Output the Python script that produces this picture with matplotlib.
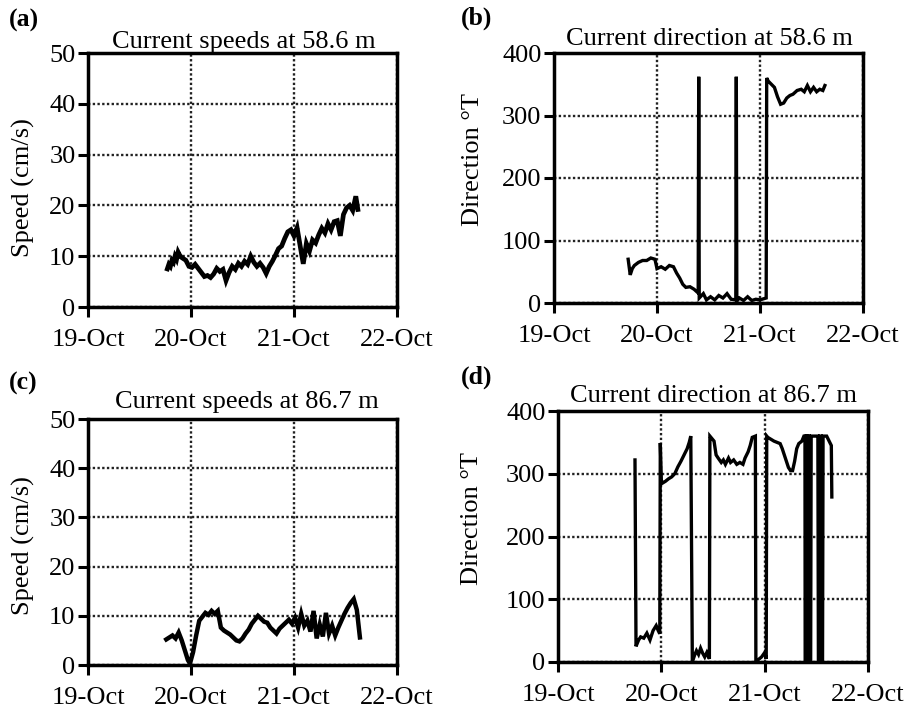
import matplotlib
matplotlib.use("Agg")
import matplotlib.pyplot as plt

plt.rcParams['font.family'] = ['Liberation Serif', 'DejaVu Serif']

# ---------------- data ----------------
day_ticks = [19, 20, 21, 22]
day_labels = ['19-Oct', '20-Oct', '21-Oct', '22-Oct']
speed_ticks = [0, 10, 20, 30, 40, 50]
dir_ticks = [0, 100, 200, 300, 400]

titles = ['Current speeds at 58.6 m', 'Current direction at 58.6 m',
          'Current speeds at 86.7 m', 'Current direction at 86.7 m']
panel_tags = ['(a)', '(b)', '(c)', '(d)']
speed_label = 'Speed (cm/s)'
dir_label = 'Direction °T'

time_a = [19.77, 19.785, 19.80, 19.815, 19.83, 19.845, 19.86, 19.875, 19.89, 19.905,
          19.92, 19.95, 19.98, 20.01, 20.04,
          20.07, 20.10, 20.13, 20.16, 20.19, 20.22, 20.25, 20.28, 20.31, 20.34,
          20.37, 20.40, 20.43, 20.46, 20.49, 20.52, 20.55, 20.58, 20.61, 20.64,
          20.67, 20.70, 20.73, 20.76, 20.79, 20.82, 20.85, 20.88, 20.91, 20.94,
          20.97, 21.00, 21.03, 21.06, 21.09, 21.12, 21.15, 21.18, 21.21, 21.24,
          21.27, 21.30, 21.33, 21.36, 21.39, 21.42, 21.45, 21.48, 21.51, 21.54,
          21.57, 21.60, 21.62]
speed_a = [7.5, 8.4, 8.0, 9.2, 8.8, 10.0, 9.4, 10.8, 10.2, 9.8,
           9.6, 9.2, 8.0, 7.8, 8.4,
           7.6, 6.8, 6.0, 6.2, 5.8, 6.5, 7.6, 7.0, 7.4, 5.2,
           6.8, 8.0, 7.4, 8.6, 8.0, 9.0, 8.4, 10.0, 8.8, 8.0,
           8.6, 7.8, 6.6, 8.0, 9.0, 10.2, 11.5, 12.0, 13.5, 14.8,
           15.2, 14.0, 15.6, 12.0, 8.5, 12.5, 11.0, 13.2, 12.6, 14.2,
           15.5, 14.6, 16.4, 15.2, 16.8, 17.0, 14.0, 18.2, 19.5, 20.0,
           19.0, 21.8, 19.2]

time_b = [19.72, 19.74, 19.76, 19.78, 19.82, 19.86, 19.90, 19.94, 19.98, 20.00,
          20.04, 20.08, 20.12, 20.16, 20.19, 20.22, 20.25, 20.28, 20.32, 20.36,
          20.40, 20.405, 20.41, 20.45, 20.48, 20.52, 20.56, 20.60, 20.64, 20.68,
          20.72, 20.765, 20.77, 20.775, 20.80, 20.84, 20.88, 20.92, 20.96, 21.00,
          21.06, 21.065, 21.08, 21.11, 21.14, 21.17, 21.20, 21.23, 21.26, 21.29,
          21.32, 21.36, 21.40, 21.43, 21.46, 21.49, 21.52, 21.55, 21.58, 21.61,
          21.63]
dir_b = [70, 45, 55, 60, 65, 68, 68, 72, 70, 55,
         58, 54, 60, 58, 48, 40, 30, 25, 26, 22,
         16, 362, 8, 15, 5, 10, 5, 12, 8, 15,
         6, 5, 362, 3, 8, 4, 10, 4, 6, 5,
         8, 360, 355, 350, 345, 330, 318, 320, 328, 332,
         334, 340, 342, 338, 348, 338, 345, 338, 342, 340,
         348]

time_c = [19.76, 19.79, 19.82, 19.85, 19.88, 19.91, 19.94, 19.97, 19.99, 20.02,
          20.05, 20.08, 20.11, 20.14, 20.17, 20.20, 20.23, 20.26, 20.29, 20.32,
          20.35, 20.38, 20.41, 20.44, 20.47, 20.50, 20.53, 20.56, 20.59, 20.62,
          20.65, 20.68, 20.71, 20.74, 20.77, 20.80, 20.83, 20.86, 20.89, 20.92,
          20.95, 20.98, 21.01, 21.04, 21.07, 21.10, 21.13, 21.16, 21.19, 21.22,
          21.25, 21.28, 21.31, 21.34, 21.37, 21.40, 21.43, 21.46, 21.49, 21.52,
          21.55, 21.58, 21.61, 21.64]
speed_c = [5.2, 5.6, 6.0, 5.4, 6.6, 5.0, 3.0, 1.0, 0.3, 2.6,
           6.0, 9.0, 9.8, 10.6, 10.2, 11.0, 10.4, 11.0, 7.6, 7.0,
           6.6, 6.2, 5.6, 5.0, 4.8, 5.4, 6.4, 7.2, 8.4, 9.2,
           10.0, 9.4, 8.8, 8.6, 7.6, 7.0, 6.4, 7.4, 8.0, 8.6,
           9.2, 8.4, 9.6, 7.6, 10.4, 8.0, 9.0, 6.8, 11.0, 5.4,
           8.2, 5.8, 10.6, 6.4, 8.0, 6.0, 7.6, 9.0, 10.4, 11.6,
           12.6, 13.4, 11.2, 5.6]

time_d = [19.745, 19.755, 19.78, 19.80, 19.83, 19.86, 19.89, 19.92, 19.95, 19.97,
          19.985, 19.99, 20.00, 20.01, 20.04, 20.07, 20.10, 20.13, 20.16, 20.19,
          20.22, 20.25, 20.27, 20.285, 20.30, 20.32, 20.34, 20.36, 20.38, 20.40,
          20.42, 20.44, 20.465, 20.47, 20.49, 20.51, 20.53, 20.55, 20.58, 20.60,
          20.62, 20.65, 20.67, 20.70, 20.73, 20.76, 20.79, 20.81, 20.84, 20.86,
          20.88, 20.91, 20.915, 20.94, 20.97, 21.00, 21.015, 21.02, 21.03, 21.06,
          21.09, 21.12, 21.15, 21.17, 21.19, 21.21, 21.23, 21.25, 21.27, 21.29,
          21.31, 21.33, 21.36, 21.38, 21.39, 21.392, 21.40, 21.402, 21.41, 21.412,
          21.42, 21.422, 21.43, 21.435, 21.445, 21.45, 21.455, 21.50, 21.515, 21.52,
          21.53, 21.535, 21.545, 21.55, 21.56, 21.565, 21.60, 21.63, 21.645, 21.65]
dir_d = [322, 25, 35, 40, 38, 46, 35, 50, 58, 50,
         45, 349, 290, 285, 288, 292, 295, 300, 311, 320,
         330, 340, 350, 360, 0, 10, 18, 12, 22, 14,
         8, 15, 5, 360, 356, 352, 330, 325, 318, 322,
         315, 325, 318, 322, 315, 318, 315, 325, 335, 345,
         358, 360, 0, 4, 8, 15, 5, 360, 358, 355,
         352, 350, 348, 340, 330, 320, 310, 305, 305, 320,
         340, 348, 352, 360, 360, 0, 0, 360, 360, 0,
         0, 360, 360, 0, 0, 360, 360, 360, 360, 0,
         0, 360, 360, 0, 0, 360, 360, 350, 345, 263]

# ---------------- layout ----------------
W, H = 912, 712
fig = plt.figure(figsize=(W / 100, H / 100), dpi=100)


def px_axes(l, r, t, b):
    return [l / W, 1 - b / H, (r - l) / W, (b - t) / H]


rects = [px_axes(88, 397, 53, 307), px_axes(554, 863, 53, 303),
         px_axes(88, 397, 419, 665), px_axes(558, 868, 411, 662)]
series = [(time_a, speed_a), (time_b, dir_b), (time_c, speed_c), (time_d, dir_d)]
ylims = [(0, 50), (0, 400), (0, 50), (0, 400)]
yticks = [speed_ticks, dir_ticks, speed_ticks, dir_ticks]
ylabels = [speed_label, dir_label, speed_label, dir_label]
ylab_pos = [(-0.172, 0.47), (-0.227, 0.572), (-0.172, 0.484), (-0.242, 0.572)]
title_pos = [(244, 48), (709, 45), (247, 408), (714, 402)]
tag_pos = [(9, 27), (461, 25), (9, 390), (461, 384)]
lws = [3.4, 2.4, 3.2, 2.4]

for i in range(4):
    ax = fig.add_axes(rects[i])
    t, v = series[i]
    ax.plot(t, v, color='black', lw=lws[i], solid_joinstyle='miter', zorder=3)
    ax.set_xlim(19, 22)
    ax.set_ylim(*ylims[i])
    ax.set_xticks(day_ticks)
    ax.set_xticklabels(day_labels)
    ax.set_yticks(yticks[i])
    ax.grid(True, color='#222222', linestyle=(0, (1, 1)), linewidth=1.7)
    for s in ax.spines.values():
        s.set_linewidth(2.5)
    ax.tick_params(axis='both', labelsize=19, width=2.2, direction='out')
    ax.tick_params(axis='x', length=7, pad=9)
    ax.tick_params(axis='y', length=7, pad=2)
    ax.set_ylabel(ylabels[i], fontsize=19)
    ax.yaxis.set_label_coords(*ylab_pos[i])
    fig.text(title_pos[i][0] / W, 1 - title_pos[i][1] / H, titles[i],
             ha='center', va='baseline', fontsize=19)
    fig.text(tag_pos[i][0] / W, 1 - tag_pos[i][1] / H, panel_tags[i],
             ha='left', va='baseline', fontsize=18.5, fontweight='bold')

fig.savefig('out.png', dpi=100, facecolor='white')
